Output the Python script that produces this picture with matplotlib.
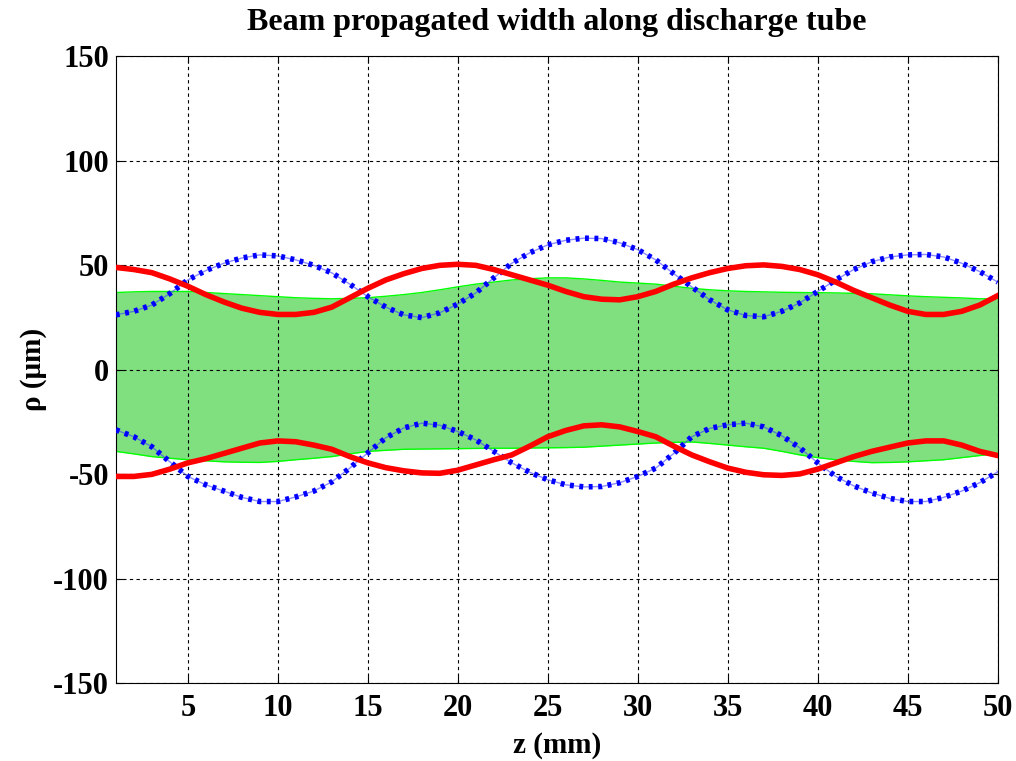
import numpy as np
import matplotlib
matplotlib.use("Agg")
import matplotlib.pyplot as plt

# valeurs (z en mm, rho en um), pas de 1 mm
z = list(range(1, 51))

red_up = [49, 48, 46.5, 43.5, 40, 36, 32.5, 29.5, 27.5, 26.5,
          26.5, 27.5, 30, 34.5, 39, 43, 46, 48.5, 50, 50.5,
          50, 48, 45.5, 43, 40.5, 37.5, 35, 33.8, 33.5, 35,
          37.5, 41, 44, 46.5, 48.5, 49.8, 50.2, 49.5, 48, 45.5,
          42, 38, 34.5, 31, 28, 26.5, 26.5, 28, 31, 35.5]
red_low = [-51, -51, -50, -47.5, -44.5, -42.5, -40, -37.5, -35, -34,
           -34.4, -36, -38, -41.5, -44.5, -46.8, -48.3, -49.3, -49.5, -48,
           -45.5, -43, -40.7, -36.5, -32, -29, -26.8, -26.3, -27.3, -29.5,
           -32, -36.5, -40.7, -44, -47, -49, -50.2, -50.5, -49.8, -47.5,
           -44.5, -41.5, -39, -37, -35, -34, -34, -36, -39, -41]

blue_up = [26.3, 28, 31, 36.5, 43, 47.5, 51, 53.5, 55, 54.5,
           52.6, 50, 46.4, 41, 35, 30, 26.3, 25, 27.3, 31.5,
           36.8, 44, 51, 56, 59.8, 62, 63, 62.8, 60.8, 57.5,
           52.6, 46, 39.7, 33.5, 28.7, 26, 25.4, 28, 32, 37.5,
           43, 48, 51.7, 54, 55, 55.2, 54, 51, 47, 42]
blue_low = [-28.7, -32, -36.8, -44, -51, -55, -58, -61, -63, -63,
            -60.8, -58, -53.6, -47, -39.7, -32.5, -27.8, -25.5, -26.5, -29.5,
            -33.5, -39, -44.5, -49, -52.6, -55, -56, -55.8, -54, -51,
            -47, -40, -32, -28, -26.3, -25.5, -27.3, -31.5, -37.3, -44.5,
            -51, -55.5, -58.9, -61.5, -63, -63, -61, -58, -54, -48.8]

green_up = [37, 37.3, 37.5, 37.5, 37.5, 37, 36.5, 36, 35.5, 35,
            34.5, 34.2, 34, 34.2, 34.5, 35.2, 36, 37, 38.3, 39.7,
            41, 42, 43, 43.6, 44, 44, 43.5, 42.8, 42, 41.5,
            41, 40, 39, 38.3, 37.8, 37.5, 37.3, 37.1, 37, 36.9,
            36.8, 36.6, 36.4, 35.9, 35.4, 35, 34.7, 34.4, 34, 34]
green_low = [-39, -40.2, -41.5, -42.3, -43, -43.5, -44, -44.2, -44.3, -43.8,
             -43, -42.3, -41.5, -40.2, -39, -38.5, -38, -37.9, -37.8, -37.7,
             -37.6, -37.5, -37.5, -37.4, -37.3, -37.2, -37, -36.5, -36, -35.5,
             -35, -34.7, -34.5, -35.2, -36, -36.8, -37.5, -39, -40.7, -42,
             -43, -43.8, -44.4, -44.3, -44, -43.5, -43, -42, -41, -40]

xticks = [5, 10, 15, 20, 25, 30, 35, 40, 45, 50]
yticks = [-150, -100, -50, 0, 50, 100, 150]

plt.rcParams['font.family'] = ['Liberation Serif', 'DejaVu Serif']
plt.rcParams['font.weight'] = 'bold'
plt.rcParams['axes.unicode_minus'] = False

fig = plt.figure(figsize=(10.16, 7.61), dpi=100)
ax = fig.add_axes([0.114, 0.102, 0.868, 0.824])

ax.fill_between(z, green_low, green_up, color='#80e080', lw=0, zorder=1)
ax.plot(z, green_up, color='#00ff00', lw=1, zorder=2)
ax.plot(z, green_low, color='#00ff00', lw=1, zorder=2)

for yy in [blue_up, blue_low]:
    ax.plot(z, yy, color='#4040ff', lw=1, alpha=0.6, zorder=3)
    ax.plot(z, yy, color='#0000ff', lw=4, ls=(0, (0.7, 1.0)), zorder=3)
for yy in [red_up, red_low]:
    ax.plot(z, yy, color='#ff0000', lw=4, zorder=4, solid_joinstyle='round')

ax.set_xlim(1, 50)
ax.set_ylim(-150, 150)
ax.set_xticks(xticks)
ax.set_yticks(yticks)
ax.grid(True, color='k', ls=(0, (3, 3)), lw=0.8)
ax.tick_params(direction='in', length=5, labelsize=22, top=True, right=True)
ax.tick_params(axis='x', pad=8)
ax.tick_params(axis='y', pad=5)
for lab in ax.get_xticklabels() + ax.get_yticklabels():
    lab.set_fontweight('bold')

ax.set_xlabel('z (mm)', fontsize=21, fontweight='bold', labelpad=6)
ax.set_ylabel('ρ (μm)', fontsize=21, fontweight='bold', labelpad=4)
ax.set_title('Beam propagated width along discharge tube', fontsize=23, fontweight='bold', pad=19)

fig.savefig('out.png', dpi=100)
